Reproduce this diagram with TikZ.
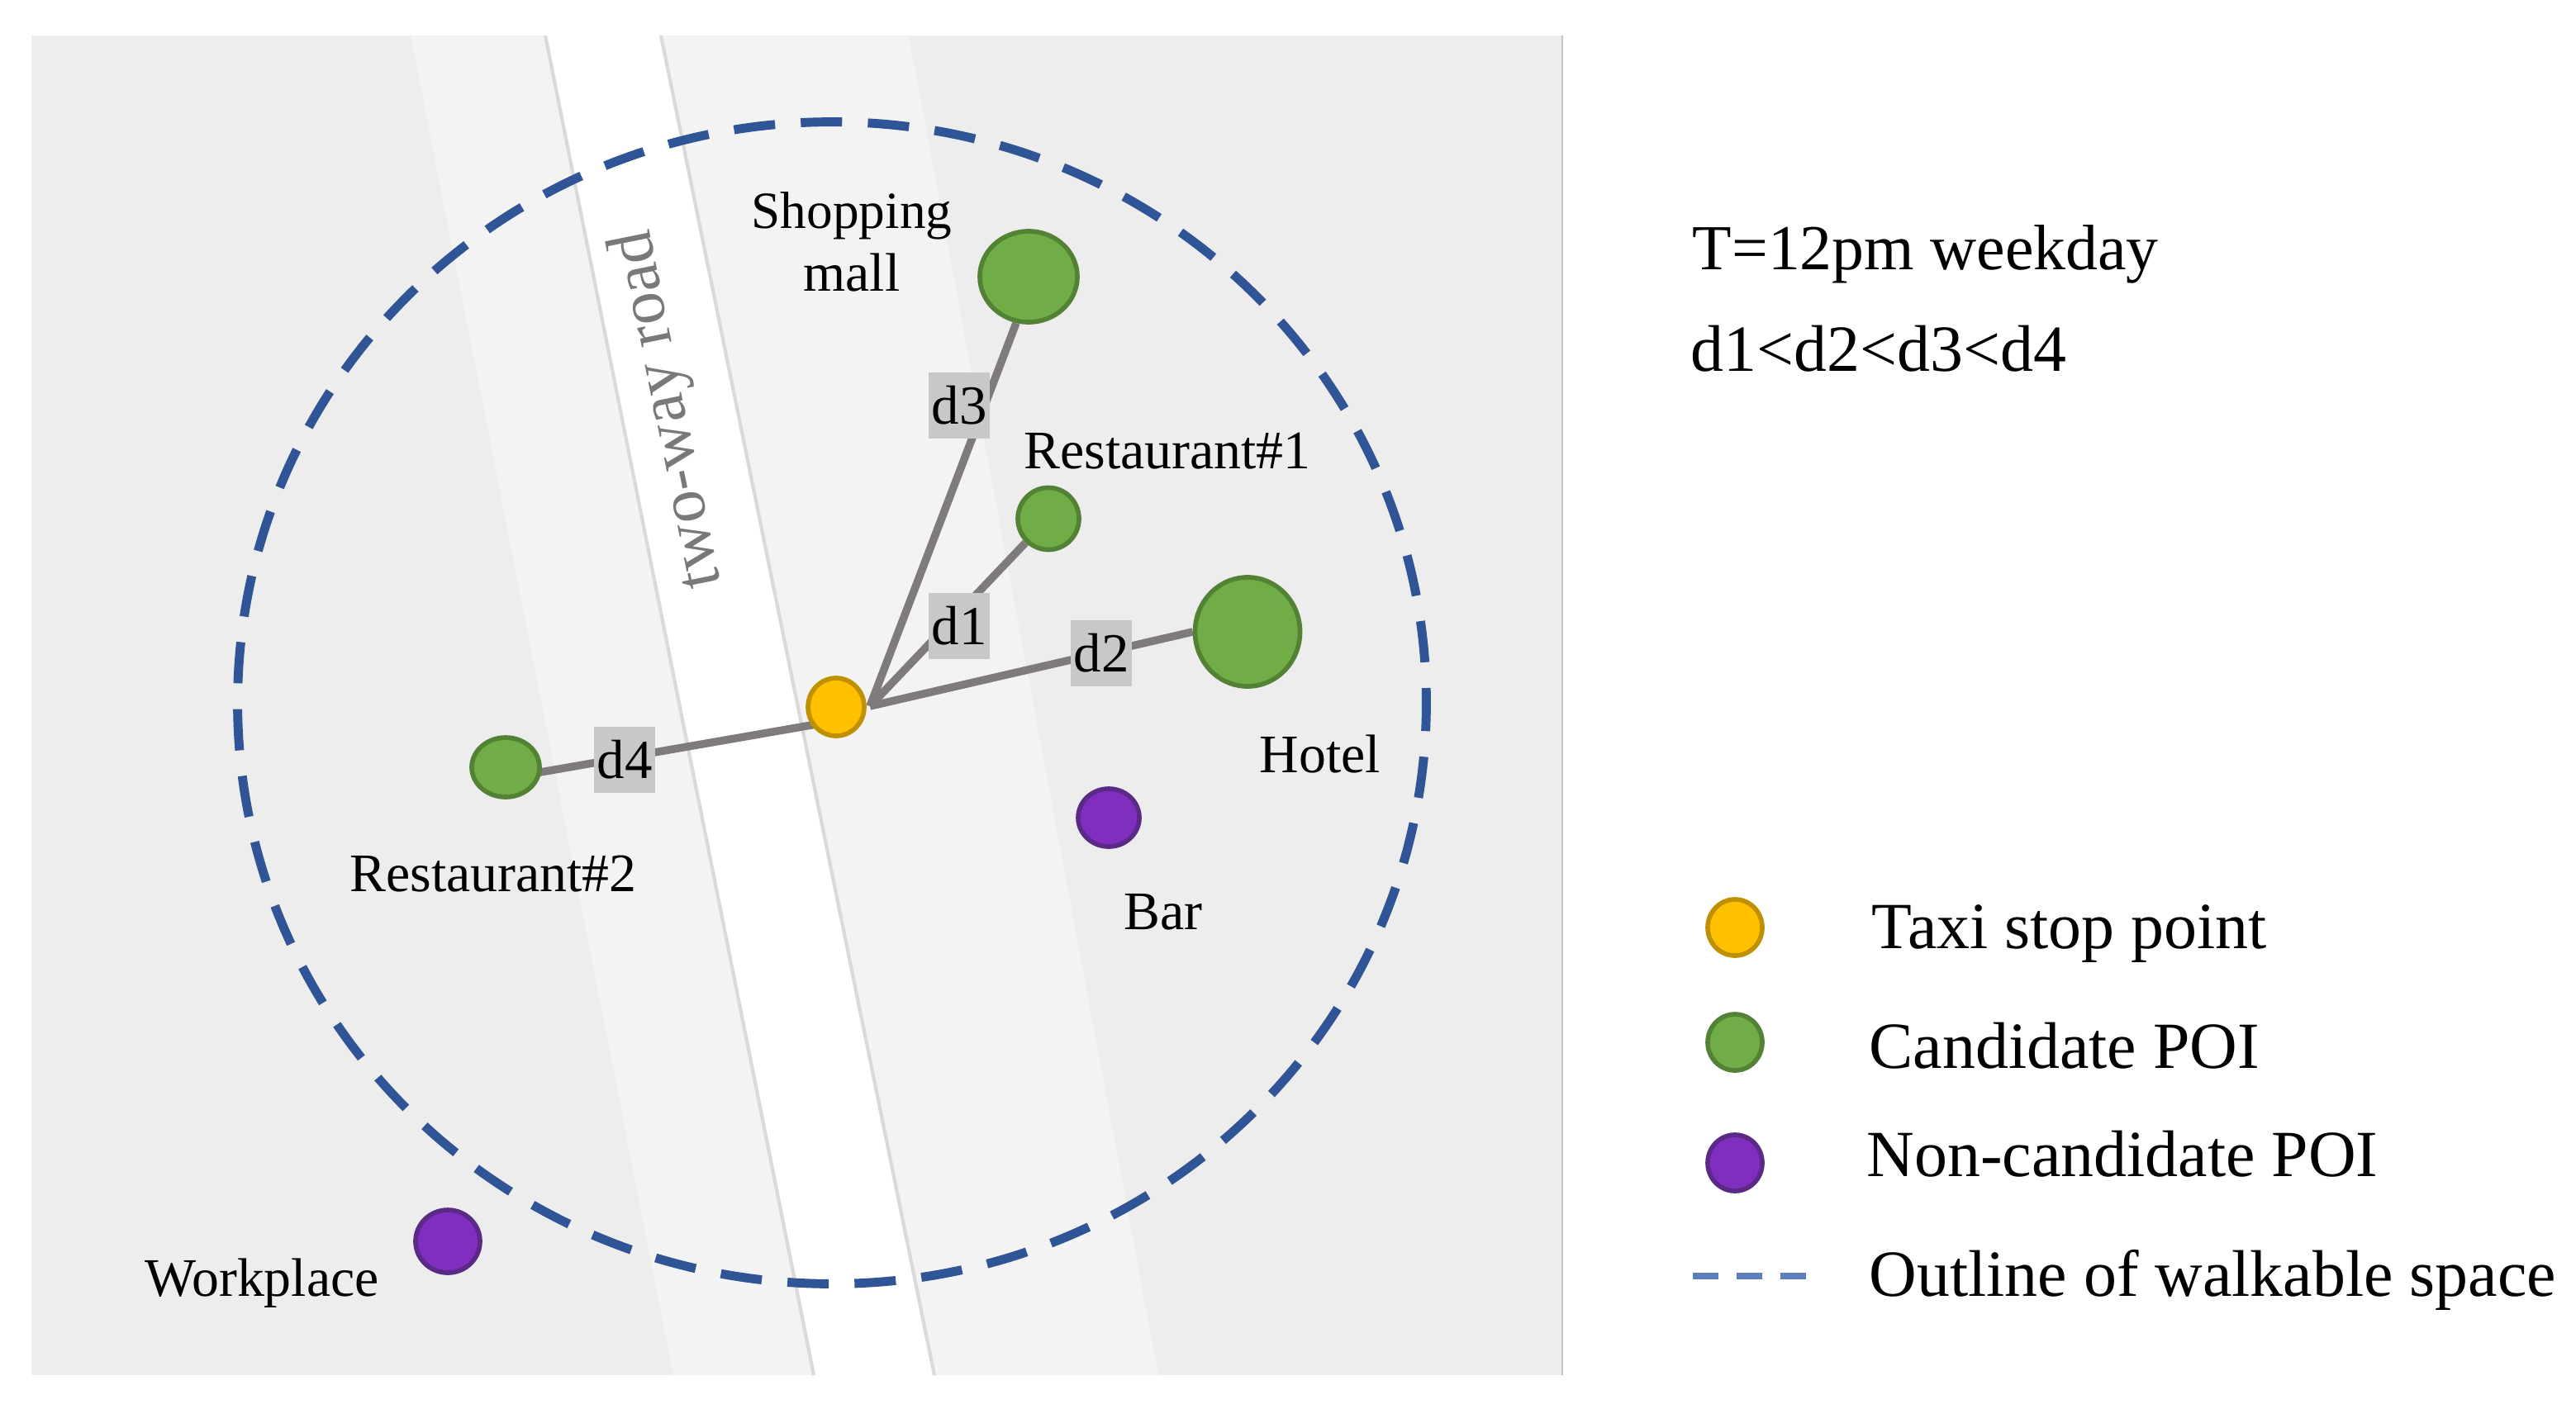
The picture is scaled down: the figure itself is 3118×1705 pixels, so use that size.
\documentclass[tikz,border=0pt]{standalone}
\usepackage{fontspec}
\setmainfont{Liberation Serif}
\usetikzlibrary{shapes.geometric}
\pgfdeclarelayer{bglayer}
\pgfdeclarelayer{connlayer}
\pgfsetlayers{bglayer,connlayer,main}
\definecolor{paneldark}{HTML}{EDEDED}
\definecolor{panellight}{HTML}{F3F3F3}
\definecolor{edgegray}{HTML}{DADADA}
\definecolor{framegray}{HTML}{C4C4C4}
\definecolor{walkblue}{HTML}{2F5597}
\definecolor{legendblue}{HTML}{5B7FBD}
\definecolor{linkgray}{HTML}{7F7B7B}
\definecolor{boxgray}{HTML}{C8C8C8}
\definecolor{greenfill}{HTML}{70AD47}
\definecolor{greenline}{HTML}{548235}
\definecolor{purplefill}{HTML}{7F2EC0}
\definecolor{purpleline}{HTML}{5B2A86}
\definecolor{goldfill}{HTML}{FFC000}
\definecolor{goldline}{HTML}{BF9000}
\tikzset{
  x=0.01cm, y=-0.01cm,
  poi/.style={ellipse, inner sep=0pt, line width=1.6pt},
  taxipoi/.style={poi, draw=goldline, fill=goldfill},
  candpoi/.style={poi, draw=greenline, fill=greenfill},
  noncandpoi/.style={poi, draw=purpleline, fill=purplefill},
  link/.style={draw=linkgray, line width=2.7pt},
  dlabel/.style={fill=boxgray, inner sep=0pt, minimum width=0.73cm, minimum height=0.8cm, font=\fontsize{19}{19}\selectfont, text=black},
  placelabel/.style={anchor=base, inner sep=0pt, font=\fontsize{18.7}{18.7}\selectfont, text=black},
  sidetext/.style={anchor=base west, inner sep=0pt, font=\fontsize{22.7}{22.7}\selectfont, text=black},
  roadedge/.style={draw=edgegray, line width=1.2pt},
  walkline/.style={draw=walkblue, line width=3.1pt, dash pattern=on 0.50cm off 0.312cm, dash phase=0.32cm},
}
\begin{document}
\begin{tikzpicture}
\useasboundingbox (0,0) rectangle (3118,1705);
\begin{pgfonlayer}{bglayer}
  \fill[paneldark] (38,43) rectangle (1891,1665);
  \fill[panellight] (497,43) -- (1100,43) -- (1402,1665) -- (815,1665) -- cycle;
  \fill[white] (660,43) -- (800,43) -- (1131,1665) -- (985,1665) -- cycle;
  \draw[roadedge] (660,43) -- (985,1665);
  \draw[roadedge] (800,43) -- (1131,1665);
  \draw[framegray, line width=0.7pt] (1891,43) -- (1891,1665);
  \draw[walkline] (1007,851) ellipse [x radius=7.19cm, y radius=7.03cm];
\end{pgfonlayer}

\node[rotate=101.4, inner sep=0pt, text=gray!95!black, font=\fontsize{22.6}{22.6}\selectfont] (road) at (810,496) {two-way road};

\coordinate (hub) at (1053,855);
\coordinate (d4end) at (1005,874);
\coordinate (d4start) at (625,940);

\node[taxipoi, minimum width=0.68cm, minimum height=0.70cm] (taxi) at (1012,856) {};
\node[candpoi, minimum width=1.18cm, minimum height=1.10cm] (mallpoi) at (1245,335) {};
\node[candpoi, minimum width=0.74cm, minimum height=0.75cm] (rest1) at (1269,628) {};
\node[candpoi, minimum width=1.27cm, minimum height=1.32cm] (hotel) at (1510,765) {};
\node[candpoi, minimum width=0.82cm, minimum height=0.72cm] (rest2) at (612,929) {};
\node[noncandpoi, minimum width=0.74cm, minimum height=0.70cm] (bar) at (1342,990) {};
\node[noncandpoi, minimum width=0.78cm, minimum height=0.76cm] (work) at (542,1503) {};

\begin{pgfonlayer}{connlayer}
  \draw[link] (hub) -- (mallpoi.255);
  \draw[link] (hub) -- (rest1);
  \draw[link] (hub) -- (hotel.west);
  \draw[link] (d4start) -- (d4end);
\end{pgfonlayer}

\node[dlabel] (d3) at (1161,491) {d3};
\node[dlabel] (d1) at (1161,758) {d1};
\node[dlabel] (d2) at (1333,791) {d2};
\node[dlabel] (d4) at (756,920) {d4};

\node[placelabel, font=\fontsize{18}{18}\selectfont] (shop1) at (1031,276) {Shopping};
\node[placelabel] (shop2) at (1031,352) {mall};
\node[placelabel] (lrest1) at (1413,567) {Restaurant\#1};
\node[placelabel] (lhotel) at (1598,935) {Hotel};
\node[placelabel] (lbar) at (1408,1125) {Bar};
\node[placelabel] (lrest2) at (597,1079) {Restaurant\#2};
\node[placelabel] (lwork) at (317,1569) {Workplace};

\node[sidetext, font=\fontsize{22.1}{22.1}\selectfont] (time) at (2048,326) {T=12pm weekday};
\node[sidetext] (order) at (2046,449) {d1<d2<d3<d4};

\node[taxipoi, minimum width=0.66cm, minimum height=0.68cm] (legtaxi) at (2100,1123) {};
\node[candpoi, minimum width=0.66cm, minimum height=0.68cm] (legcand) at (2100,1262) {};
\node[noncandpoi, minimum width=0.66cm, minimum height=0.68cm] (legnon) at (2100,1408) {};
\coordinate (legdashA) at (2049,1545);
\coordinate (legdashB) at (2186,1545);
\draw[legendblue, line width=2.4pt, dash pattern=on 0.31cm off 0.22cm] (legdashA) -- (legdashB);

\node[sidetext] (ltaxi) at (2265,1148) {Taxi stop point};
\node[sidetext] (lcand) at (2262,1293) {Candidate POI};
\node[sidetext] (lnon) at (2259,1424) {Non-candidate POI};
\node[sidetext] (lout) at (2262,1569) {Outline of walkable space};
\end{tikzpicture}
\end{document}
